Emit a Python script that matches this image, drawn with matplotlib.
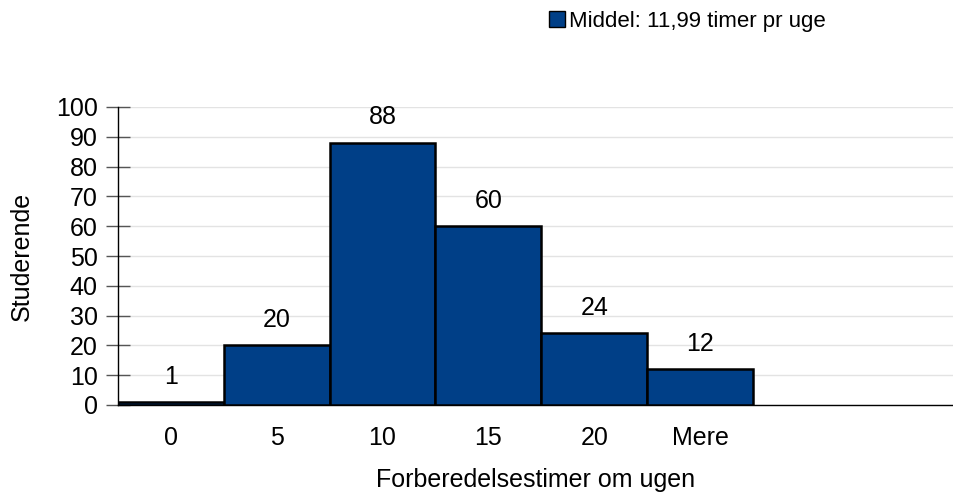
import matplotlib.pyplot as plt
from matplotlib.patches import Patch

plt.rcParams['font.family'] = ['Liberation Sans', 'DejaVu Sans']

# ----- data -----
categories = ['0', '5', '10', '15', '20', 'Mere']
students = [1, 20, 88, 60, 24, 12]
legend_label = 'Middel: 11,99 timer pr uge'

BAR_COLOR = '#003f87'
FS = 18

fig = plt.figure(figsize=(9.54, 4.93), dpi=100)
ax = fig.add_axes([118/954, 88/493, 1 - 118/954, 298/493])

x = list(range(len(categories)))
ax.bar(x, students, width=1.0, color=BAR_COLOR, edgecolor='black', linewidth=1.8, zorder=3)
for xi, v in zip(x, students):
    ax.text(xi, v + 4.5, str(v), ha='center', va='bottom', fontsize=FS)

ax.set_xlim(-0.5, 7.4)
ax.set_ylim(0, 100)
ax.set_yticks(range(0, 101, 10))
ax.set_xticks(x)
ax.set_xticklabels(categories)
ax.tick_params(axis='y', direction='inout', length=17, width=1, labelsize=FS, pad=6, color='#555555')
ax.tick_params(axis='x', length=0, labelsize=FS, pad=15)
ax.grid(axis='y', color='#e3e3e3', linewidth=1, zorder=0)

for s in ['top', 'right']:
    ax.spines[s].set_visible(False)
ax.spines['left'].set_linewidth(1)
ax.spines['bottom'].set_linewidth(1)

ax.set_ylabel('Studerende', fontsize=FS, labelpad=16)
ax.set_xlabel('Forberedelsestimer om ugen', fontsize=FS, labelpad=13)

fig.legend(handles=[Patch(facecolor=BAR_COLOR, edgecolor='black', linewidth=1)],
           labels=[legend_label], loc='center left', bbox_to_anchor=(549/954, 1 - 21/493),
           frameon=False, fontsize=16, handlelength=0.7, handleheight=0.7, handletextpad=0.2,
           borderaxespad=0, borderpad=0)

fig.savefig('out.png', dpi=100)
